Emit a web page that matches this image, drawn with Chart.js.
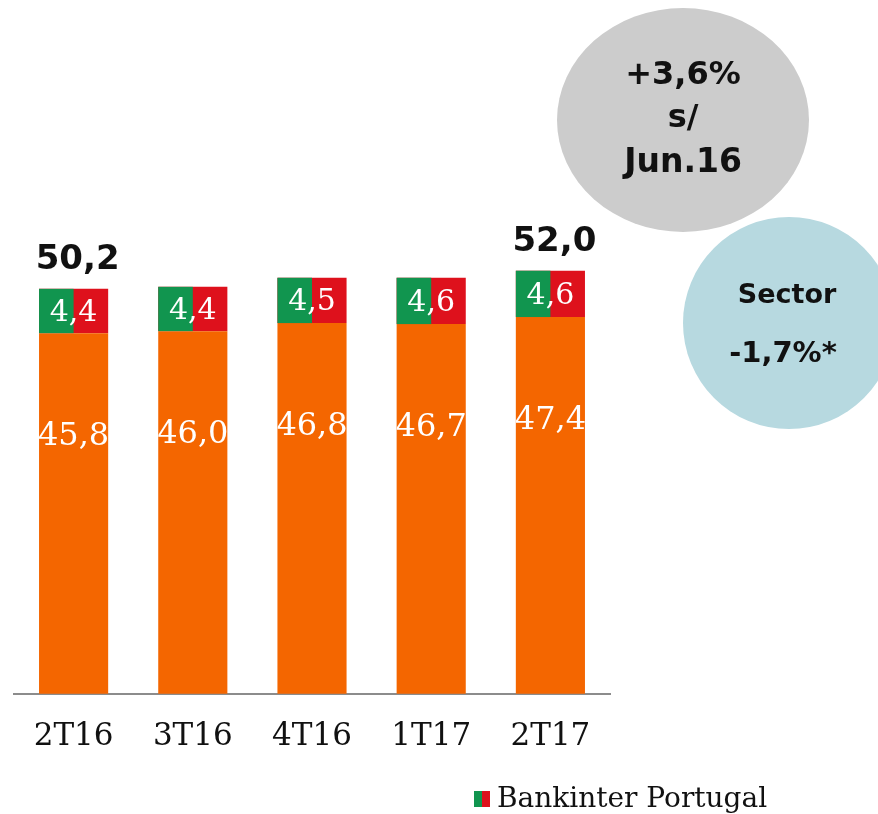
<!DOCTYPE html>
<html>
<head>
<meta charset="utf-8">
<script src="https://cdn.jsdelivr.net/npm/chart.js@4"></script>
<style>
    html, body { margin: 0; padding: 0; background: #fff; }
    #wrap { width: 878px; height: 814px; }
</style>
</head>
<body>
<div id="wrap"><canvas id="chart" width="878" height="814"></canvas></div>
<script>
// Data
const quarters = ['2T16', '3T16', '4T16', '1T17', '2T17'];
const baseValues = [45.8, 46.0, 46.8, 46.7, 47.4];
const portugalValues = [4.4, 4.4, 4.5, 4.6, 4.6];
const totalLabels = ['50,2', '', '', '', '52,0'];
const legendLabel = 'Bankinter Portugal';
const bubbleMain = ['+3,6%', 's/', 'Jun.16'];
const bubbleSector = ['Sector', '-1,7%*'];

const ORANGE = '#F46600';
const GREEN = '#11954F';
const RED = '#DE111C';

function fmt(v) {
    return v.toFixed(1).replace('.', ',');
}

// Draws split flag colours, value labels, bubbles and legend
const decorPlugin = {
    id: 'decor',
    afterDatasetsDraw(chart) {
        const ctx = chart.ctx;
        const baseMeta = chart.getDatasetMeta(0);
        const topMeta = chart.getDatasetMeta(1);

        ctx.save();
        // green left half of the top segment
        topMeta.data.forEach(el => {
            const p = el.getProps(['x', 'y', 'base', 'width'], true);
            ctx.fillStyle = GREEN;
            ctx.fillRect(p.x - p.width / 2, p.y, p.width / 2, p.base - p.y);
        });

        ctx.fillStyle = '#fff';
        ctx.textAlign = 'center';
        ctx.textBaseline = 'middle';

        // labels inside orange part, clipped to bar
        baseMeta.data.forEach((el, i) => {
            const p = el.getProps(['x', 'y', 'base', 'width'], true);
            ctx.save();
            ctx.beginPath();
            ctx.rect(p.x - p.width / 2, p.y, p.width, p.base - p.y);
            ctx.clip();
            ctx.fillStyle = '#fff';
            ctx.font = '32px "DejaVu Serif"';
            ctx.fillText(fmt(baseValues[i]), p.x, p.y + 104);
            ctx.restore();
        });

        // labels inside top part + totals
        topMeta.data.forEach((el, i) => {
            const p = el.getProps(['x', 'y', 'base', 'width'], true);
            ctx.fillStyle = '#fff';
            ctx.font = '30px "DejaVu Serif"';
            ctx.fillText(fmt(portugalValues[i]), p.x, (p.y + p.base) / 2 + 2);
            if (totalLabels[i]) {
                ctx.fillStyle = '#111';
                ctx.font = 'bold 34px "DejaVu Sans"';
                ctx.fillText(totalLabels[i], p.x + 4, p.y - 29);
            }
        });
        ctx.restore();
    },
    afterDraw(chart) {
        const ctx = chart.ctx;
        ctx.save();

        // grey bubble
        ctx.fillStyle = '#CCCCCC';
        ctx.beginPath();
        ctx.ellipse(683, 120, 126, 112, 0, 0, Math.PI * 2);
        ctx.fill();

        // light blue bubble
        ctx.fillStyle = '#B7D9E0';
        ctx.beginPath();
        ctx.ellipse(789, 323, 106, 106, 0, 0, Math.PI * 2);
        ctx.fill();

        ctx.fillStyle = '#111';
        ctx.textAlign = 'center';
        ctx.textBaseline = 'middle';
        ctx.font = 'bold 32px "DejaVu Sans"';
        ctx.fillText(bubbleMain[0], 683, 76);
        ctx.fillText(bubbleMain[1], 683, 119);
        ctx.font = 'bold 33px "DejaVu Sans"';
        ctx.fillText(bubbleMain[2], 683, 163);

        ctx.font = 'bold 27px "DejaVu Sans"';
        ctx.fillText(bubbleSector[0], 787, 296);
        ctx.font = 'bold 29px "DejaVu Sans"';
        ctx.fillText(bubbleSector[1], 783, 354);

        // legend
        ctx.fillStyle = GREEN;
        ctx.fillRect(474, 791, 8, 16);
        ctx.fillStyle = RED;
        ctx.fillRect(482, 791, 8, 16);
        ctx.fillStyle = '#111';
        ctx.textAlign = 'left';
        ctx.textBaseline = 'alphabetic';
        ctx.font = '28px "DejaVu Serif"';
        ctx.fillText(legendLabel, 497, 807);

        ctx.restore();
    }
};

new Chart(document.getElementById('chart'), {
    type: 'bar',
    data: {
        labels: quarters,
        datasets: [{
            data: baseValues,
            backgroundColor: ORANGE,
            barPercentage: 0.58,
            categoryPercentage: 1
        }, {
            data: portugalValues,
            backgroundColor: RED,
            barPercentage: 0.58,
            categoryPercentage: 1
        }]
    },
    options: {
        responsive: false,
        animation: false,
        layout: {
            padding: { left: 14, right: 268, top: 39, bottom: 33 }
        },
        plugins: {
            legend: { display: false },
            tooltip: { enabled: false }
        },
        scales: {
            x: {
                stacked: true,
                grid: { display: false, drawTicks: false },
                border: { color: '#8C8C8C', width: 2 },
                ticks: {
                    color: '#111',
                    padding: 25,
                    font: { family: 'DejaVu Serif', size: 31 }
                }
            },
            y: {
                stacked: true,
                display: false,
                min: 10,
                max: 75
            }
        }
    },
    plugins: [decorPlugin]
});
</script>
</body>
</html>
